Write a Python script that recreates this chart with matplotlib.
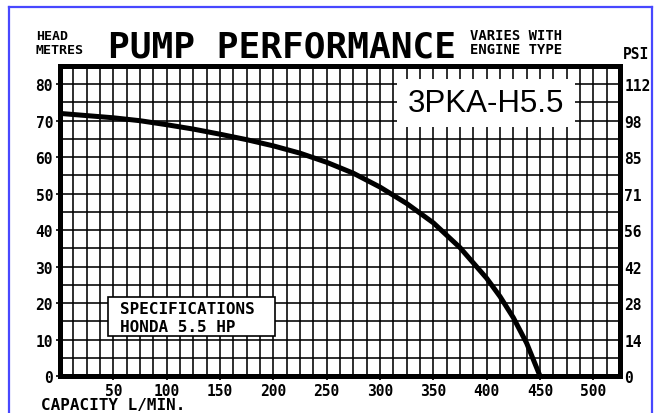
import numpy as np
import matplotlib
matplotlib.use('Agg')
import matplotlib.pyplot as plt
from matplotlib.patches import Rectangle
from matplotlib.lines import Line2D

# ---- data ----
capacity = [0, 25, 50, 75, 100, 125, 150, 175, 200, 225, 250, 275, 300,
            325, 350, 375, 400, 412.5, 425, 437.5, 450]
head = [72.0, 71.4, 70.8, 70.0, 68.9, 67.7, 66.3, 64.8, 63.1, 61.1, 58.6,
        55.6, 51.8, 47.3, 42.0, 35.2, 26.8, 21.8, 16.0, 9.0, 0.0]
x_ticks = [50, 100, 150, 200, 250, 300, 350, 400, 450, 500]
y_ticks = [0, 10, 20, 30, 40, 50, 60, 70, 80]
psi_labels = ['0', '14', '28', '42', '56', '71', '85', '98', '112']
model = '3PKA-H5.5'
spec_lines = ['SPECIFICATIONS', 'HONDA 5.5 HP']

W, H = 662, 414
fig = plt.figure(figsize=(W / 100, H / 100), dpi=100)
fig.patch.set_facecolor('white')

def fx(x):
    return x / W

def fy(y):
    return 1 - y / H

MONO = 'DejaVu Sans Mono'

# axes: left 60, right 620, top 67, bottom 377 (pixels)
ax = fig.add_axes([fx(60), fy(377), (620 - 60) / W, (377 - 67) / H])
ax.set_xlim(0, 525)
ax.set_ylim(0, 85)

ax.set_xticks(x_ticks)
ax.set_xticks(np.arange(0, 525.1, 12.5), minor=True)
ax.set_yticks(y_ticks)
ax.set_yticks(np.arange(0, 85.1, 5), minor=True)
ax.grid(which='both', color='black', linewidth=1.15)
ax.set_axisbelow(True)
ax.tick_params(which='minor', length=0)
ax.tick_params(which='major', length=3, width=1.2, direction='out', pad=2,
               colors='black')
ax.set_xticklabels([str(v) for v in x_ticks], family=MONO, weight='bold', fontsize=10.5)
ax.set_yticklabels([str(v) for v in y_ticks], family=MONO, weight='bold', fontsize=10.5)
for sp in ax.spines.values():
    sp.set_linewidth(3.6)
    sp.set_color('black')

ax2 = ax.twinx()
ax2.set_ylim(ax.get_ylim())
ax2.set_yticks(y_ticks)
ax2.set_yticklabels(psi_labels, family=MONO, weight='bold', fontsize=10.5)
ax2.tick_params(length=0, pad=3)
for sp in ax2.spines.values():
    sp.set_visible(False)

ax.plot(capacity, head, color='black', linewidth=3.6, solid_capstyle='butt',
        zorder=4)

# ---- texts ----
fig.text(fx(36), fy(40.5), 'HEAD', family=MONO, weight='bold', fontsize=9.5,
         ha='left', va='baseline')
fig.text(fx(36), fy(53.5), 'METRES', family=MONO, weight='bold', fontsize=9.5,
         ha='left', va='baseline')
fig.text(fx(108), fy(57.5), 'PUMP PERFORMANCE', family=MONO, weight='bold',
         fontsize=26, ha='left', va='baseline')
fig.text(fx(470), fy(40.5), 'VARIES WITH', family=MONO, weight='bold',
         fontsize=10, ha='left', va='baseline')
fig.text(fx(470), fy(54), 'ENGINE TYPE', family=MONO, weight='bold',
         fontsize=10, ha='left', va='baseline')
fig.text(fx(623), fy(59), 'PSI', family=MONO, weight='bold', fontsize=10.5,
         ha='left', va='baseline')
fig.text(fx(41), fy(410.5), 'CAPACITY L/MIN.', family=MONO, weight='bold',
         fontsize=11.5, ha='left', va='baseline')

# model box (white, no border)
fig.add_artist(Rectangle((fx(397), fy(128)), (575 - 397) / W, (128 - 80) / H,
                         transform=fig.transFigure, facecolor='white',
                         edgecolor='none', zorder=5))
fig.text(fx(486), fy(104), model, family='Liberation Sans', fontsize=22.5,
         ha='center', va='center', zorder=6)

# spec box
fig.add_artist(Rectangle((fx(108), fy(337)), (275 - 108) / W, (337 - 298) / H,
                         transform=fig.transFigure, facecolor='white',
                         edgecolor='black', linewidth=1.2, zorder=5))
fig.text(fx(120), fy(313.5), spec_lines[0], family=MONO, weight='bold',
         fontsize=11.5, ha='left', va='baseline', zorder=6)
fig.text(fx(120), fy(332), spec_lines[1], family=MONO, weight='bold',
         fontsize=11.5, ha='left', va='baseline', zorder=6)

# blue outer frame
blue = '#4848ff'
for xs, ys in [((8.5, 8.5), (7.5, 414)), ((8.5, 652), (7.5, 7.5)),
               ((652, 652), (7.5, 414))]:
    fig.add_artist(Line2D([fx(v) for v in xs], [fy(v) for v in ys],
                          transform=fig.transFigure, color=blue,
                          linewidth=1.6, zorder=7))

fig.savefig('out.png', dpi=100, facecolor='white')
